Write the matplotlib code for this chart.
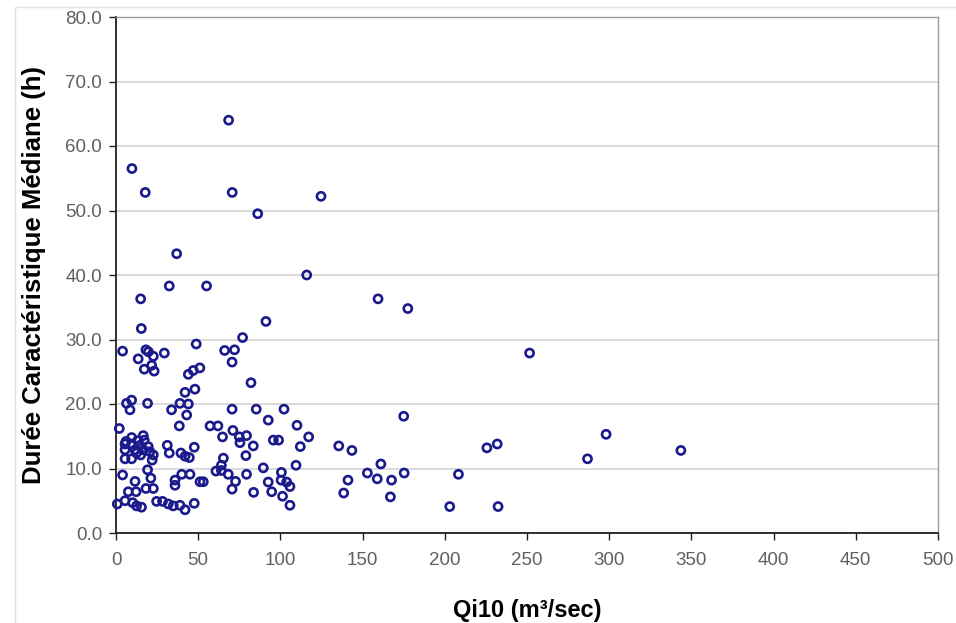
import matplotlib
matplotlib.use("Agg")
import matplotlib.pyplot as plt
from matplotlib.patches import Rectangle

# Qi10 (m3/sec) and median characteristic duration (h)
qi10 = [
    68.5, 9.7, 17.8, 70.7, 86.2, 124.7, 36.9, 116.0, 32.4, 55.1,
    15.0, 159.4, 177.5, 91.2, 15.4, 77.0, 48.8, 4.0, 18.2, 19.7,
    29.4, 66.1, 72.1, 251.6, 13.5, 22.7, 70.6, 17.2, 21.7, 23.2,
    44.0, 47.0, 51.0, 82.1, 48.0, 42.0, 6.4, 9.5, 8.5, 19.2,
    33.8, 38.9, 44.0, 70.6, 85.3, 102.2, 43.0, 175.0, 92.6, 110.1,
    2.0, 38.5, 57.2, 62.0, 71.1, 64.8, 75.0, 79.4, 75.4, 83.5,
    95.7, 98.9, 117.2, 112.1, 135.5, 143.5, 225.6, 231.9, 298.1, 343.6,
    286.8, 161.1, 152.9, 158.9, 167.6, 175.3, 141.1, 208.3, 138.5, 166.9,
    203.0, 232.4,
    9.5, 16.6, 6.1, 13.1, 17.2, 5.5, 9.5, 14.6, 19.6, 5.5,
    11.6, 16.6, 20.6, 22.7, 5.5, 9.5, 22.0, 12.5, 15.0,
    31.2, 32.4, 39.5, 42.0, 44.6, 47.6,
    4.0, 19.2, 21.2, 22.7, 18.2, 11.6, 7.5, 12.2,
    35.9, 35.9, 40.0, 45.0, 51.1, 53.1, 60.8,
    0.8, 5.5, 10.1, 12.5, 15.5, 24.7, 28.3, 31.8, 34.8, 38.9, 42.0, 47.6,
    65.3, 79.0, 64.1, 89.6, 109.5, 64.1, 68.3, 79.4, 100.6, 72.7,
    92.6, 100.4, 103.8, 105.8, 70.6, 83.7, 94.7, 101.3, 105.8,
]
duree = [
    64.0, 56.5, 52.8, 52.8, 49.5, 52.2, 43.3, 40.0, 38.3, 38.3,
    36.3, 36.3, 34.8, 32.8, 31.7, 30.3, 29.3, 28.2, 28.4, 28.1,
    27.9, 28.3, 28.4, 27.9, 27.0, 27.4, 26.5, 25.4, 26.0, 25.1,
    24.6, 25.2, 25.6, 23.3, 22.3, 21.8, 20.1, 20.6, 19.1, 20.1,
    19.1, 20.1, 20.0, 19.2, 19.2, 19.2, 18.3, 18.1, 17.5, 16.7,
    16.2, 16.6, 16.6, 16.6, 15.9, 14.9, 14.9, 15.1, 14.0, 13.5,
    14.4, 14.4, 14.9, 13.4, 13.5, 12.8, 13.2, 13.8, 15.3, 12.8,
    11.5, 10.7, 9.3, 8.4, 8.2, 9.3, 8.2, 9.1, 6.2, 5.6,
    4.1, 4.1,
    14.8, 15.1, 14.2, 14.3, 14.4, 13.8, 13.8, 13.6, 13.4, 12.9,
    12.9, 12.9, 12.6, 12.1, 11.5, 11.5, 11.3, 12.4, 12.1,
    13.6, 12.4, 12.4, 11.9, 11.7, 13.3,
    9.0, 9.8, 8.5, 6.9, 6.9, 8.0, 6.4, 6.4,
    8.2, 7.4, 9.1, 9.1, 7.95, 7.95, 9.6,
    4.5, 5.0, 4.7, 4.2, 4.0, 4.9, 4.9, 4.5, 4.2, 4.3, 3.6, 4.6,
    11.6, 12.0, 10.5, 10.1, 10.5, 9.7, 9.1, 9.1, 9.4, 8.0,
    7.9, 8.2, 7.9, 7.2, 6.8, 6.3, 6.4, 5.7, 4.3,
]

x_ticks = [0, 50, 100, 150, 200, 250, 300, 350, 400, 450, 500]
y_ticks = [0, 10, 20, 30, 40, 50, 60, 70, 80]

plt.rcParams['font.family'] = ['Liberation Sans', 'DejaVu Sans']

fig = plt.figure(figsize=(9.56, 6.23), dpi=100)
fig.patches.append(Rectangle((15/956, -0.1), 1.2, 1 - 7/623 + 0.1,
                             transform=fig.transFigure, fill=False,
                             edgecolor='#e0e0e0', linewidth=1.0))
ax = fig.add_axes([116/956, 1 - 533/623, (938 - 116)/956, (533 - 17)/623])

ax.scatter(qi10, duree, s=34, facecolors='none', edgecolors='#1a1a8c',
           linewidths=1.9, zorder=3, clip_on=False)

ax.set_xlim(0, 500)
ax.set_ylim(0, 80)
ax.set_xticks(x_ticks)
ax.set_yticks(y_ticks)
ax.set_yticklabels([f"{v:.1f}" for v in y_ticks])
ax.set_xticklabels([str(v) for v in x_ticks])
ax.yaxis.grid(True, color='#d4d4d4', linewidth=1.2)
ax.set_axisbelow(True)

for s in ['left', 'bottom']:
    ax.spines[s].set_color('#202020')
    ax.spines[s].set_linewidth(1.3)
for s in ['top', 'right']:
    ax.spines[s].set_color('#9a9a9a')
    ax.spines[s].set_linewidth(1.0)

ax.tick_params(axis='both', direction='out', length=5, width=1.0,
               colors='#202020', labelcolor='#606060', labelsize=13.5)
ax.tick_params(axis='x', pad=9)
ax.tick_params(axis='y', pad=5)

ax.set_xlabel("Qi10 (m³/sec)", fontsize=17, fontweight='bold', labelpad=21)
ax.set_ylabel("Durée Caractéristique Médiane (h)", fontsize=18.5,
              fontweight='bold', labelpad=14)

fig.savefig("out.png", dpi=100, facecolor='white')
